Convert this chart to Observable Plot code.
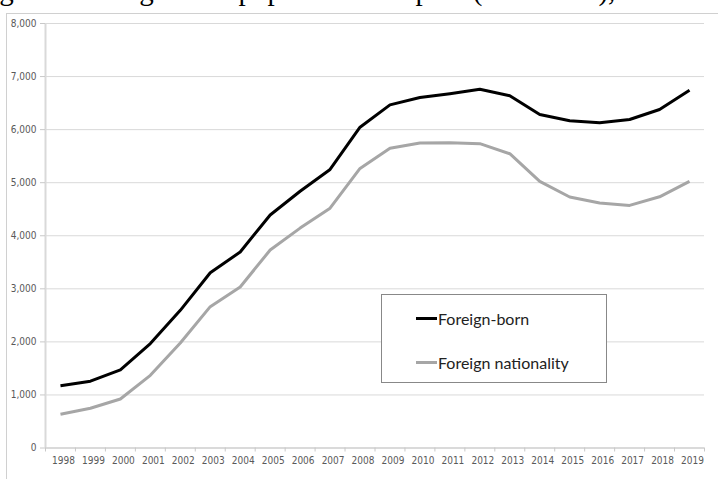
<!DOCTYPE html>
<html>
<head>
<meta charset="utf-8">
<script src="https://cdn.jsdelivr.net/npm/d3@7"></script>
<script src="https://cdn.jsdelivr.net/npm/@observablehq/plot@0.6"></script>
<style>
  html, body { margin: 0; padding: 0; background: #fff; }
  body { width: 718px; height: 479px; overflow: hidden; position: relative; }
  #title { position: absolute; left: -62px; top: -24px; font-family: "Liberation Serif", "DejaVu Serif", serif; font-size: 29px; line-height: 29px; white-space: nowrap; color: #000; }
  #frame { position: absolute; left: 6px; top: 13px; width: 800px; height: 600px; border: 1px solid #d0d0d0; box-sizing: border-box; }
  #chart { position: absolute; left: 0; top: 0; }
  #legend { position: absolute; left: 381px; top: 294px; width: 226px; height: 89px; box-sizing: border-box; border: 1px solid #888; background: #fff; font-family: Lato, "Open Sans", sans-serif; font-size: 16px; color: #222; }
  .item { position: absolute; left: 34px; display: flex; align-items: center; white-space: nowrap; }
  .swatch { width: 21px; height: 3px; margin-right: 1px; }
</style>
</head>
<body>
<div id="title">Foreign and foreign-born population in Spain (thousands), 1998-2019</div>
<div id="frame"></div>
<div id="chart"></div>
<div id="legend"></div>
<script>
const years = [1998,1999,2000,2001,2002,2003,2004,2005,2006,2007,2008,2009,2010,2011,2012,2013,2014,2015,2016,2017,2018,2019];
const foreignBorn = [1174,1259,1472,1969,2594,3302,3694,4391,4838,5250,6045,6466,6604,6678,6760,6638,6284,6167,6130,6190,6380,6740];
const foreignNationality = [637,749,924,1370,1978,2664,3034,3731,4144,4520,5268,5648,5747,5752,5736,5546,5024,4730,4618,4572,4734,5025];
const seriesNames = ["Foreign-born", "Foreign nationality"];
const seriesColors = ["#000000", "#a6a6a6"];
const yTicks = [0,1000,2000,3000,4000,5000,6000,7000,8000];

const table = [];
years.forEach((yr, i) => {
  table.push({year: yr, value: foreignBorn[i], series: seriesNames[0]});
  table.push({year: yr, value: foreignNationality[i], series: seriesNames[1]});
});
const bounds = [...years.map(y => y - 0.5), years[years.length - 1] + 0.5];

const chart = Plot.plot({
  width: 718,
  height: 479,
  marginLeft: 45,
  marginRight: 14,
  marginTop: 23,
  marginBottom: 31.5,
  style: {fontFamily: '"Liberation Sans Narrow", "DejaVu Sans Condensed", sans-serif', fontSize: "10px", background: "transparent"},
  x: {domain: [bounds[0], bounds[bounds.length - 1]]},
  y: {domain: [0, 8000]},
  color: {domain: seriesNames, range: seriesColors},
  marks: [
    Plot.gridY(yTicks, {stroke: "#d9d9d9", strokeOpacity: 1}),
    Plot.ruleX([bounds[0]], {stroke: "#d9d9d9", strokeWidth: 2}),
    Plot.ruleY([0], {stroke: "#c8c8c8"}),
    Plot.axisY({ticks: yTicks, tickFormat: d3.format(","), tickSize: 5, tickPadding: 4, stroke: "#c8c8c8", fill: "#595959", label: null}),
    Plot.axisX({ticks: bounds, tickFormat: () => "", tickSize: 4, stroke: "#c8c8c8", label: null}),
    Plot.axisX({ticks: years, tickFormat: d => String(d), tickSize: 0, tickPadding: 9, dx: 3, fill: "#595959", label: null}),
    Plot.line(table, {x: "year", y: "value", z: "series", stroke: "series", strokeWidth: 3, strokeLinejoin: "round", strokeLinecap: "butt"})
  ]
});
document.getElementById("chart").appendChild(chart);

const legend = document.getElementById("legend");
const legendTops = [14, 58];
seriesNames.forEach((name, i) => {
  const item = document.createElement("div");
  item.className = "item";
  item.style.top = legendTops[i] + "px";
  const sw = document.createElement("div");
  sw.className = "swatch";
  sw.style.background = seriesColors[i];
  const label = document.createElement("span");
  label.textContent = name;
  item.appendChild(sw);
  item.appendChild(label);
  legend.appendChild(item);
});
</script>
</body>
</html>
